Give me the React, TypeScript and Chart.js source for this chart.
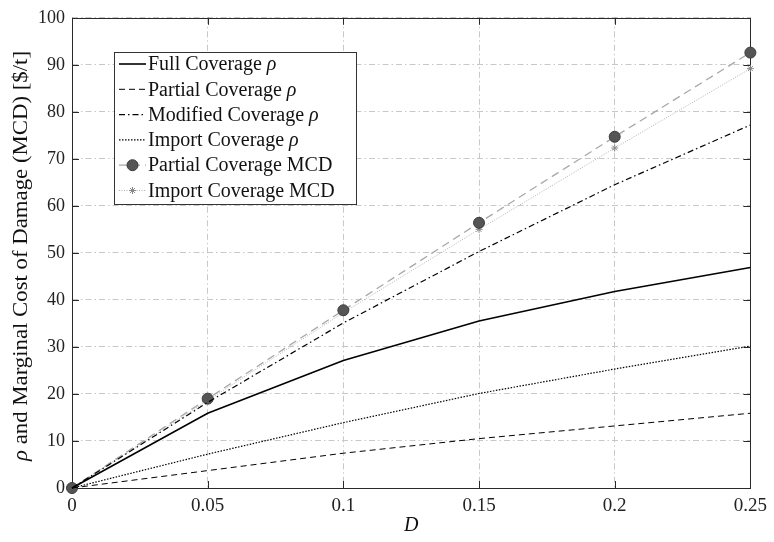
import React, { useEffect, useRef } from 'react';
import { Chart, registerables } from 'chart.js';

Chart.register(...registerables);

const dValues = [0, 0.05, 0.1, 0.15, 0.2, 0.25];
const fullCoverageRho = [0, 15.9, 27.1, 35.5, 41.8, 46.9];
const partialCoverageRho = [0, 3.7, 7.4, 10.5, 13.2, 15.9];
const modifiedCoverageRho = [0, 18.2, 35.1, 50.3, 64.5, 77.2];
const importCoverageRho = [0, 7.2, 13.9, 20.1, 25.3, 30.2];
const partialCoverageMCD = [0, 19.0, 37.8, 56.4, 74.7, 92.6];
const importCoverageMCD = [0, 18.6, 37.3, 55.0, 72.3, 89.2];
const xTickLabels = ['0', '0.05', '0.1', '0.15', '0.2', '0.25'];
const yTickValues = [0, 10, 20, 30, 40, 50, 60, 70, 80, 90, 100];
const seriesNames = [
  'Full Coverage',
  'Partial Coverage',
  'Modified Coverage',
  'Import Coverage',
  'Partial Coverage MCD',
  'Import Coverage MCD',
];
const seriesHasRho = [true, true, true, true, false, false];
const yTitleMain = ' and Marginal Cost of Damage (MCD) [$/t]';
const xTitle = 'D';

const FONT = "'Liberation Serif', serif";

const toPts = (ys: number[]) => ys.map((y, i) => ({ x: dValues[i], y }));

const framePlugin = {
  id: 'frame',
  beforeDatasetsDraw(chart: any) {
    const { ctx, chartArea: a, scales } = chart;
    ctx.save();
    ctx.strokeStyle = '#2a2a2a';
    ctx.lineWidth = 1;
    ctx.setLineDash([]);
    ctx.strokeRect(Math.round(a.left) + 0.5, Math.round(a.top) + 0.5, Math.round(a.right - a.left), Math.round(a.bottom - a.top));
    const tl = 7;
    ctx.beginPath();
    dValues.forEach((v) => {
      const x = Math.round(scales.x.getPixelForValue(v)) + 0.5;
      ctx.moveTo(x, a.bottom);
      ctx.lineTo(x, a.bottom - tl);
      ctx.moveTo(x, a.top);
      ctx.lineTo(x, a.top + tl);
    });
    yTickValues.forEach((v) => {
      const y = Math.round(scales.y.getPixelForValue(v)) + 0.5;
      ctx.moveTo(a.left, y);
      ctx.lineTo(a.left + tl, y);
      ctx.moveTo(a.right, y);
      ctx.lineTo(a.right - tl, y);
    });
    ctx.stroke();
    ctx.restore();
  },
  afterDraw(chart: any) {
    const { ctx, chartArea: a } = chart;
    ctx.save();
    // y title
    ctx.fillStyle = '#111';
    ctx.textBaseline = 'middle';
    ctx.font = `italic 20px ${FONT}`;
    const rhoW = ctx.measureText('ρ').width;
    ctx.font = `20px ${FONT}`;
    const mainW = ctx.measureText(yTitleMain).width;
    const total = rhoW + mainW;
    ctx.translate(22, 256);
    ctx.rotate(-Math.PI / 2);
    ctx.scale(410 / total, 1);
    ctx.textAlign = 'left';
    ctx.font = `italic 20px ${FONT}`;
    ctx.fillText('ρ', -total / 2, 0);
    ctx.font = `20px ${FONT}`;
    ctx.fillText(yTitleMain, -total / 2 + rhoW, 0);
    ctx.restore();

    // x title
    ctx.save();
    ctx.fillStyle = '#111';
    ctx.font = `italic 20px ${FONT}`;
    ctx.textAlign = 'center';
    ctx.textBaseline = 'middle';
    ctx.fillText(xTitle, (a.left + a.right) / 2, 526);
    ctx.restore();

    // legend
    ctx.save();
    const bx = 114.5, by = 52.5, bw = 242, bh = 152;
    ctx.fillStyle = '#fff';
    ctx.fillRect(bx, by, bw, bh);
    ctx.strokeStyle = '#333';
    ctx.lineWidth = 1;
    ctx.strokeRect(bx, by, bw, bh);
    chart.data.datasets.forEach((ds: any, i: number) => {
      const y = 64 + i * 25.3;
      const x0 = 119, x1 = 146;
      ctx.save();
      ctx.strokeStyle = ds.borderColor;
      ctx.lineWidth = ds.borderWidth;
      ctx.setLineDash(ds.borderDash || []);
      ctx.beginPath();
      ctx.moveTo(x0, y);
      ctx.lineTo(x1, y);
      ctx.stroke();
      ctx.setLineDash([]);
      const mx = (x0 + x1) / 2;
      if (ds.pointStyle === 'circle' && ds.pointRadius > 0) {
        ctx.fillStyle = ds.pointBackgroundColor;
        ctx.strokeStyle = ds.pointBorderColor;
        ctx.lineWidth = 1;
        ctx.beginPath();
        ctx.arc(mx, y, ds.pointRadius, 0, Math.PI * 2);
        ctx.fill();
        ctx.stroke();
      } else if (ds.pointStyle === 'star' && ds.pointRadius > 0) {
        ctx.strokeStyle = ds.pointBorderColor;
        ctx.lineWidth = 1;
        const r = ds.pointRadius;
        ctx.beginPath();
        for (let k = 0; k < 4; k++) {
          const ang = (k * Math.PI) / 4;
          ctx.moveTo(mx - r * Math.sin(ang), y - r * Math.cos(ang));
          ctx.lineTo(mx + r * Math.sin(ang), y + r * Math.cos(ang));
        }
        ctx.stroke();
      }
      ctx.restore();
      ctx.save();
      ctx.fillStyle = '#111';
      ctx.textBaseline = 'middle';
      ctx.textAlign = 'left';
      ctx.font = `20px ${FONT}`;
      const name = seriesNames[i];
      ctx.fillText(name, 148, y + 1);
      if (seriesHasRho[i]) {
        const w = ctx.measureText(name + ' ').width;
        ctx.font = `italic 20px ${FONT}`;
        ctx.fillText('ρ', 148 + w, y + 1);
      }
      ctx.restore();
    });
    ctx.restore();
  },
};

export default function App() {
  const ref = useRef<HTMLCanvasElement | null>(null);
  useEffect(() => {
    if (!ref.current) return;
    const lineBase = { pointRadius: 0, pointHoverRadius: 0, tension: 0, fill: false, clip: false as any };
    const chart = new Chart(ref.current, {
      type: 'line',
      data: {
        datasets: [
          { ...lineBase, label: 'Full Coverage ρ', data: toPts(fullCoverageRho), borderColor: '#000', borderWidth: 1.6, borderDash: [], pointStyle: 'line' },
          { ...lineBase, label: 'Partial Coverage ρ', data: toPts(partialCoverageRho), borderColor: '#000', borderWidth: 1, borderDash: [6, 4], pointStyle: 'line' },
          { ...lineBase, label: 'Modified Coverage ρ', data: toPts(modifiedCoverageRho), borderColor: '#000', borderWidth: 1.2, borderDash: [6, 3, 1.5, 3], pointStyle: 'line' },
          { ...lineBase, label: 'Import Coverage ρ', data: toPts(importCoverageRho), borderColor: '#000', borderWidth: 1.2, borderDash: [1.5, 1.5], pointStyle: 'line' },
          { ...lineBase, label: 'Partial Coverage MCD', data: toPts(partialCoverageMCD), borderColor: '#a8a8a8', borderWidth: 1.3, borderDash: [8, 5], pointStyle: 'circle', pointRadius: 5.5, pointBackgroundColor: '#555', pointBorderColor: '#3a3a3a', pointBorderWidth: 1 },
          { ...lineBase, label: 'Import Coverage MCD', data: toPts(importCoverageMCD), borderColor: '#b0b0b0', borderWidth: 1, borderDash: [1, 1.5], pointStyle: 'star', pointRadius: 3.5, pointBackgroundColor: '#888', pointBorderColor: '#888', pointBorderWidth: 1 },
        ] as any,
      },
      options: {
        animation: false,
        responsive: false,
        devicePixelRatio: 1,
        layout: { padding: { left: 0, right: 21, top: 14, bottom: 0 } },
        plugins: { legend: { display: false }, tooltip: { enabled: false } },
        scales: {
          x: {
            type: 'linear',
            min: 0,
            max: 0.25,
            afterFit: (s: any) => { s.height = 54; },
            afterBuildTicks: (s: any) => { s.ticks = dValues.map((v) => ({ value: v })); },
            ticks: {
              callback: (_v: any, i: number) => xTickLabels[i],
              font: { family: FONT, size: 19 },
              color: '#222',
              padding: 7,
              maxRotation: 0,
              autoSkip: false,
            },
            grid: { color: '#c8c8c8', lineWidth: 1, drawTicks: false },
            border: { display: false, dash: [6, 3, 1.5, 3] },
          },
          y: {
            type: 'linear',
            min: 0,
            max: 100,
            afterFit: (s: any) => { s.width = 72; },
            afterBuildTicks: (s: any) => { s.ticks = yTickValues.map((v) => ({ value: v })); },
            ticks: {
              callback: (v: any) => String(v),
              font: { family: FONT, size: 18 },
              color: '#222',
              padding: 7,
              autoSkip: false,
            },
            grid: { color: '#c8c8c8', lineWidth: 1, drawTicks: false },
            border: { display: false, dash: [6, 3, 1.5, 3] },
          },
        },
      },
      plugins: [framePlugin],
    });
    return () => chart.destroy();
  }, []);
  return (
    <div style={{ position: 'fixed', left: 0, top: 0, width: 774, height: 542, background: '#fff' }}>
      <canvas ref={ref} width={774} height={542} />
    </div>
  );
}
